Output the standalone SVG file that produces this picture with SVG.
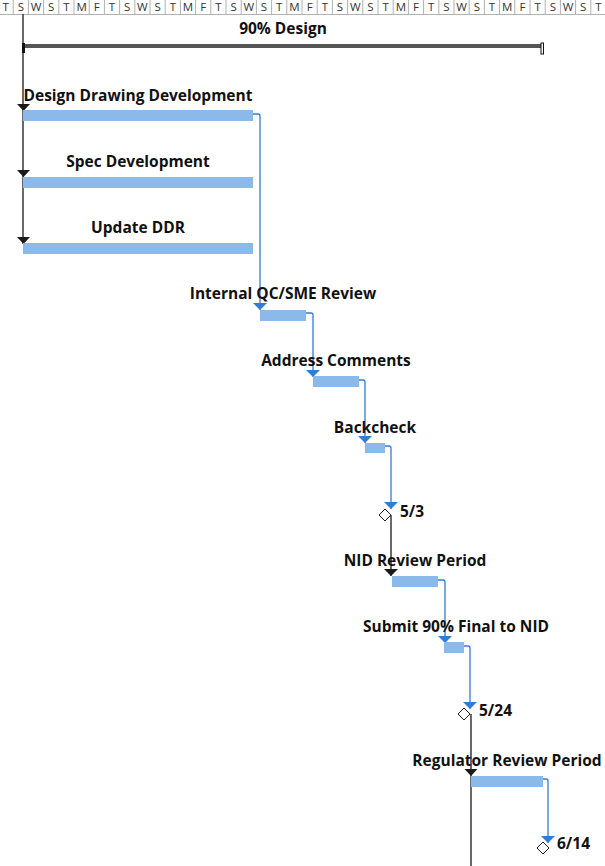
<svg xmlns="http://www.w3.org/2000/svg" width="605" height="866" viewBox="0 0 605 866">
<style>
.hdr{font-family:"Open Sans","Noto Sans","DejaVu Sans",sans-serif;font-size:11.5px;fill:#333;text-anchor:middle}
.sep{stroke:#b0b0b0;stroke-width:1}
.lbl{font-family:"Open Sans","Noto Sans","DejaVu Sans",sans-serif;font-size:15.5px;font-weight:bold;fill:#111;text-anchor:middle}
.date{font-family:"Open Sans","Noto Sans","DejaVu Sans",sans-serif;font-size:15.5px;font-weight:bold;fill:#111}
.bar{fill:#8AB9EA}
.blink{fill:none;stroke:#2F7DD7;stroke-width:1.3}
.klink{fill:none;stroke:#1a1a1a;stroke-width:1.3}
.barrow{fill:#2F7DD7}
.karrow{fill:#1a1a1a}
.ms{fill:#fff;stroke:#222;stroke-width:1}
</style>
<defs>
<marker id="ab" markerUnits="userSpaceOnUse" viewBox="0 0 7 14" refX="7" refY="7" markerWidth="7" markerHeight="14" orient="auto"><path d="M0,0 L7,7 L0,14 Z" fill="#2F7DD7"/></marker>
<marker id="ak" markerUnits="userSpaceOnUse" viewBox="0 0 7 14" refX="7" refY="7" markerWidth="7" markerHeight="14" orient="auto"><path d="M0,0 L7,7 L0,14 Z" fill="#1a1a1a"/></marker>
</defs>
<rect width="605" height="866" fill="#fff"/>
<g id="timescale">
<line class="sep" x1="0" y1="14.5" x2="605" y2="14.5"/>
<g class="sep">
<line x1="13.2" y1="0" x2="13.2" y2="14"/><line x1="28.4" y1="0" x2="28.4" y2="14"/><line x1="43.6" y1="0" x2="43.6" y2="14"/><line x1="58.8" y1="0" x2="58.8" y2="14"/><line x1="74" y1="0" x2="74" y2="14"/><line x1="89.2" y1="0" x2="89.2" y2="14"/><line x1="104.4" y1="0" x2="104.4" y2="14"/><line x1="119.6" y1="0" x2="119.6" y2="14"/><line x1="134.8" y1="0" x2="134.8" y2="14"/><line x1="150" y1="0" x2="150" y2="14"/><line x1="165.2" y1="0" x2="165.2" y2="14"/><line x1="180.4" y1="0" x2="180.4" y2="14"/><line x1="195.6" y1="0" x2="195.6" y2="14"/><line x1="210.8" y1="0" x2="210.8" y2="14"/><line x1="226" y1="0" x2="226" y2="14"/><line x1="241.2" y1="0" x2="241.2" y2="14"/><line x1="256.4" y1="0" x2="256.4" y2="14"/><line x1="271.6" y1="0" x2="271.6" y2="14"/><line x1="286.8" y1="0" x2="286.8" y2="14"/><line x1="302" y1="0" x2="302" y2="14"/><line x1="317.2" y1="0" x2="317.2" y2="14"/><line x1="332.4" y1="0" x2="332.4" y2="14"/><line x1="347.6" y1="0" x2="347.6" y2="14"/><line x1="362.8" y1="0" x2="362.8" y2="14"/><line x1="378" y1="0" x2="378" y2="14"/><line x1="393.2" y1="0" x2="393.2" y2="14"/><line x1="408.4" y1="0" x2="408.4" y2="14"/><line x1="423.6" y1="0" x2="423.6" y2="14"/><line x1="438.8" y1="0" x2="438.8" y2="14"/><line x1="454" y1="0" x2="454" y2="14"/><line x1="469.2" y1="0" x2="469.2" y2="14"/><line x1="484.4" y1="0" x2="484.4" y2="14"/><line x1="499.6" y1="0" x2="499.6" y2="14"/><line x1="514.8" y1="0" x2="514.8" y2="14"/><line x1="530" y1="0" x2="530" y2="14"/><line x1="545.2" y1="0" x2="545.2" y2="14"/><line x1="560.4" y1="0" x2="560.4" y2="14"/><line x1="575.6" y1="0" x2="575.6" y2="14"/><line x1="590.8" y1="0" x2="590.8" y2="14"/>
</g>
<g class="hdr">
<text x="5.6" y="11">T</text><text x="20.8" y="11">S</text><text x="36" y="11">W</text><text x="51.2" y="11">S</text><text x="66.4" y="11">T</text><text x="81.6" y="11">M</text><text x="96.8" y="11">F</text>
<text x="112" y="11">T</text><text x="127.2" y="11">S</text><text x="142.4" y="11">W</text><text x="157.6" y="11">S</text><text x="172.8" y="11">T</text><text x="188" y="11">M</text><text x="203.2" y="11">F</text>
<text x="218.4" y="11">T</text><text x="233.6" y="11">S</text><text x="248.8" y="11">W</text><text x="264" y="11">S</text><text x="279.2" y="11">T</text><text x="294.4" y="11">M</text><text x="309.6" y="11">F</text>
<text x="324.8" y="11">T</text><text x="340" y="11">S</text><text x="355.2" y="11">W</text><text x="370.4" y="11">S</text><text x="385.6" y="11">T</text><text x="400.8" y="11">M</text><text x="416" y="11">F</text>
<text x="431.2" y="11">T</text><text x="446.4" y="11">S</text><text x="461.6" y="11">W</text><text x="476.8" y="11">S</text><text x="492" y="11">T</text><text x="507.2" y="11">M</text><text x="522.4" y="11">F</text>
<text x="537.6" y="11">T</text><text x="552.8" y="11">S</text><text x="568" y="11">W</text><text x="583.2" y="11">S</text><text x="598.4" y="11">T</text>
</g>
</g>
<g id="connectors">
<line class="klink" x1="23" y1="14" x2="23" y2="244"/>
<polygon class="karrow" points="17,104 30,104 23.5,111"/>
<polygon class="karrow" points="17,170 30,170 23.5,177"/>
<polygon class="karrow" points="17,237 30,237 23.5,244"/>
<path class="blink" d="M253,114 H258 Q260,114 260,116 V310" marker-end="url(#ab)"/>
<path class="blink" d="M306,313 H311 Q313,313 313,315 V377" marker-end="url(#ab)"/>
<path class="blink" d="M359,380 H363 Q365,380 365,382 V443" marker-end="url(#ab)"/>
<path class="blink" d="M385,446 H389 Q391,446 391,448 V509" marker-end="url(#ab)"/>
<path class="klink" d="M391,515 V576" marker-end="url(#ak)"/>
<path class="blink" d="M438,580 H443 Q445,580 445,582 V643" marker-end="url(#ab)"/>
<path class="blink" d="M464,646 H468 Q470,646 470,648 V709" marker-end="url(#ab)"/>
<line class="klink" x1="471" y1="714" x2="471" y2="866"/>
<polygon class="karrow" points="464.5,769 477.5,769 471,776"/>
<path class="blink" d="M543,779 H546 Q548,779 548,781 V843" marker-end="url(#ab)"/>
</g>
<g id="summary-90-design">
<text class="lbl" x="283" y="34">90% Design</text>
<rect x="23" y="44" width="519" height="4" fill="#555"/>
<rect x="22" y="43" width="3" height="10" fill="#111"/>
<rect x="541" y="43" width="2.5" height="11" fill="#fff" stroke="#111" stroke-width="1"/>
</g>
<g id="task-design-drawing-development">
<text class="lbl" x="138" y="101">Design Drawing Development</text>
<rect class="bar" x="23" y="110" width="230" height="11"/>
</g>
<g id="task-spec-development">
<text class="lbl" x="138" y="167">Spec Development</text>
<rect class="bar" x="23" y="177" width="230" height="11"/>
</g>
<g id="task-update-ddr">
<text class="lbl" x="138" y="233">Update DDR</text>
<rect class="bar" x="23" y="243" width="230" height="11"/>
</g>
<g id="task-internal-qc">
<text class="lbl" x="283" y="299">Internal QC/SME Review</text>
<rect class="bar" x="260" y="310" width="46" height="11"/>
</g>
<g id="task-address-comments">
<text class="lbl" x="336" y="366">Address Comments</text>
<rect class="bar" x="313" y="376" width="46" height="11"/>
</g>
<g id="task-backcheck">
<text class="lbl" x="375" y="433">Backcheck</text>
<rect class="bar" x="365" y="443" width="20" height="10"/>
</g>
<g id="milestone-5-3">
<polygon class="ms" points="385,509 391,515 385,521 379,515"/>
<text class="date" x="400" y="517">5/3</text>
</g>
<g id="task-nid-review-period">
<text class="lbl" x="415" y="566">NID Review Period</text>
<rect class="bar" x="392" y="576" width="46" height="11"/>
</g>
<g id="task-submit-90-final">
<text class="lbl" x="456" y="632">Submit 90% Final to NID</text>
<rect class="bar" x="444" y="642" width="20" height="11"/>
</g>
<g id="milestone-5-24">
<polygon class="ms" points="464,708 470,714 464,720 458,714"/>
<text class="date" x="479" y="716">5/24</text>
</g>
<g id="task-regulator-review-period">
<text class="lbl" x="507" y="766">Regulator Review Period</text>
<rect class="bar" x="471" y="776" width="72" height="11"/>
</g>
<g id="milestone-6-14">
<polygon class="ms" points="543,842 549,848 543,854 537,848"/>
<text class="date" x="557" y="849">6/14</text>
</g>
</svg>
